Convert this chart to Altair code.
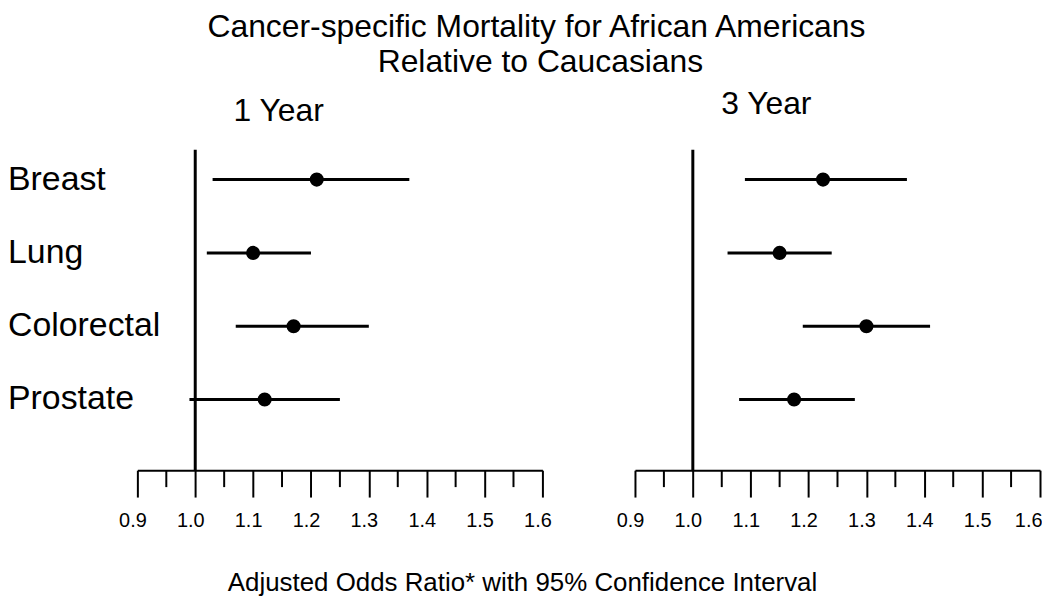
import altair as alt
import pandas as pd

# ---- data ----
categories = ["Breast", "Lung", "Colorectal", "Prostate"]
or_1yr = [1.21, 1.10, 1.17, 1.12]
lo_1yr = [1.03, 1.02, 1.07, 0.99]
hi_1yr = [1.37, 1.20, 1.30, 1.25]
or_3yr = [1.225, 1.15, 1.30, 1.175]
lo_3yr = [1.09, 1.06, 1.19, 1.08]
hi_3yr = [1.37, 1.24, 1.41, 1.28]

panel_titles = ["1 Year", "3 Year"]
main_title = ["Cancer-specific Mortality for African Americans", "Relative to Caucasians"]
x_title = ["Adjusted Odds Ratio* with 95% Confidence Interval"]
major_ticks = [0.9, 1.0, 1.1, 1.2, 1.3, 1.4, 1.5, 1.6]
minor_ticks = [0.95, 1.05, 1.15, 1.25, 1.35, 1.45, 1.55]
reference_value = [1.0]
x_domain = [0.9, 1.6]

FONT = "Liberation Sans"
H = 322
W_L = 407
W_R = 407

xscale = alt.Scale(domain=x_domain, nice=False, zero=False)
yscale = alt.Scale(type="point", domain=categories, padding=0.6855, align=0.297)
axis_common = dict(
    values=major_ticks, format=".1f", title=None, grid=False,
    domainColor="black", domainWidth=2, tickColor="black",
    tickWidth=2, tickSize=27, labelFontSize=20, labelColor="black",
    labelPadding=14, labelFlush=False, labelOverlap=False, labelFont=FONT,
)
xaxis_left = alt.Axis(labelOffset=-5, **axis_common)
xaxis_right = alt.Axis(
    labelAlign={"condition": {"test": "datum.value > 1.55", "value": "right"}, "value": "center"},
    labelOffset={"condition": {"test": "datum.value > 1.55", "value": 2}, "value": -5},
    **axis_common,
)


def panel(orv, lov, hiv, width, xaxis, title_text, title_x, title_y, extra=None):
    df = pd.DataFrame({"category": categories, "or": orv, "lo": lov, "hi": hiv})
    ref = alt.Chart(pd.DataFrame({"v": reference_value})).mark_rule(
        color="black", strokeWidth=3
    ).encode(x=alt.X("v:Q", scale=xscale, axis=xaxis))
    ci = alt.Chart(df).mark_rule(color="black", strokeWidth=3).encode(
        x=alt.X("lo:Q", scale=xscale, axis=xaxis),
        x2="hi:Q",
        y=alt.Y("category:N", scale=yscale, axis=None),
    )
    pts = alt.Chart(df).mark_circle(size=200, color="black", opacity=1).encode(
        x=alt.X("or:Q", scale=xscale, axis=xaxis),
        y=alt.Y("category:N", scale=yscale, axis=None),
    )
    minor = alt.Chart(pd.DataFrame({"v": minor_ticks})).mark_rule(
        color="black", strokeWidth=2
    ).encode(
        x=alt.X("v:Q", scale=xscale, axis=xaxis),
        y=alt.value(H),
        y2=alt.value(H + 17),
    )
    ttl = alt.Chart(pd.DataFrame({"t": [title_text]})).mark_text(
        fontSize=32, align="center", baseline="alphabetic", color="black", font=FONT
    ).encode(text="t:N", x=alt.value(title_x), y=alt.value(title_y))
    layers = [ref, ci, pts, minor, ttl] + (extra or [])
    return alt.layer(*layers).properties(width=width, height=H)


cat_labels = alt.Chart(pd.DataFrame({"category": categories})).mark_text(
    fontSize=34, align="left", baseline="middle", color="black", font=FONT
).encode(
    text="category:N",
    y=alt.Y("category:N", scale=yscale, axis=None),
    x=alt.value(-130),
)
title1 = alt.Chart(pd.DataFrame({"t": [main_title[0]]})).mark_text(
    fontSize=32, align="center", baseline="alphabetic", color="black", font=FONT
).encode(text="t:N", x=alt.value(401), y=alt.value(-113))
title2 = alt.Chart(pd.DataFrame({"t": [main_title[1]]})).mark_text(
    fontSize=32, align="center", baseline="alphabetic", color="black", font=FONT
).encode(text="t:N", x=alt.value(405), y=alt.value(-78))
xlab = alt.Chart(pd.DataFrame({"t": x_title})).mark_text(
    fontSize=26, align="center", baseline="alphabetic", color="black", font=FONT
).encode(text="t:N", x=alt.value(387), y=alt.value(443))

left = panel(or_1yr, lo_1yr, hi_1yr, W_L, xaxis_left, panel_titles[0], 142, -29,
             extra=[cat_labels, title1, title2, xlab])
right = panel(or_3yr, lo_3yr, hi_3yr, W_R, xaxis_right, panel_titles[1], 132, -36)

chart = (
    alt.hconcat(left, right, spacing=93, bounds="flush")
    .properties(padding={"top": 2, "left": 0, "right": 0, "bottom": 0}, background="white")
    .configure(font=FONT)
    .configure_view(stroke=None)
)

chart.save("out.html", embed_options={"renderer": "svg", "actions": False})
